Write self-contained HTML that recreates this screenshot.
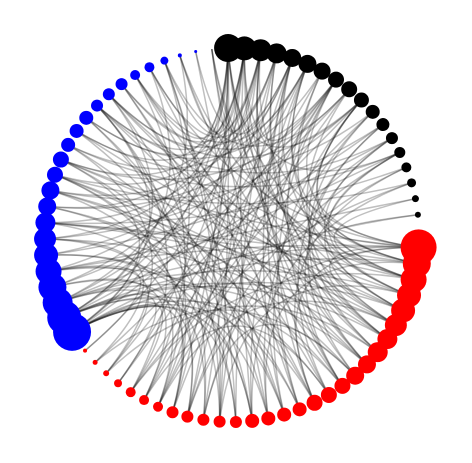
<!DOCTYPE html>
<html><head><meta charset="utf-8"><style>
html,body{margin:0;padding:0;background:#fff;width:472px;height:463px;overflow:hidden;font-family:"Liberation Sans",sans-serif}
</style></head><body>
<svg id="chart" width="472" height="463" viewBox="0 0 472 463">
<g id="edges"></g>
<g id="nodes"></g>
</svg>
<script>
// node groups by position index (72 positions around circle)
const groups = [
 "red","red","red","red","red","red","red","red","red","red","red","red","red","red","red","red","red","red","red","red","red","red","red","red","red","red","red","red","red",
 "blue","blue","blue","blue","blue","blue","blue","blue","blue","blue","blue","blue","blue","blue","blue","blue","blue","blue","blue","blue","blue","blue","blue","blue",
 "black","black","black","black","black","black","black","black","black","black","black","black","black","black","black","black","black","black","black"
];
// node radii (degree-based size)
const sizes = [
 18,14,13,12,12,11,10,10,9,9,8,8,8,7,7,7,7,6,6,6,6,6,5,5,5,4,3,2.5,2,
 19,17,15,14,13,12,11,10,9,9,8,8,7,7,7,6,6,6,5,5,4,2,1.5,0,
 14,12,11,10,9,9,8.5,8,8,7.5,7,6.5,6,5.5,5,4.5,3.5,3,0
];
// edges as pairs of node indices
const edges = [
 [0,40],[0,55],[0,20],[0,33],[0,60],[0,12],[1,45],[1,30],[1,58],[1,15],[2,36],[2,62],[2,24],[2,50],
 [3,31],[3,57],[3,18],[4,42],[4,29],[4,65],[5,38],[5,54],[5,22],[6,47],[6,30],[6,61],[7,35],[7,56],
 [7,26],[8,44],[8,53],[8,31],[9,39],[9,64],[9,19],[10,48],[10,29],[10,59],[11,33],[11,55],[11,23],
 [12,41],[12,67],[13,29],[13,52],[13,37],[14,46],[14,57],[15,30],[15,63],[16,34],[16,54],[16,42],
 [17,49],[17,29],[18,58],[18,36],[19,43],[19,55],[20,31],[20,66],[21,39],[21,53],[21,29],[22,47],
 [22,60],[23,32],[23,56],[24,44],[24,68],[25,30],[25,54],[26,41],[26,58],[27,35],[27,62],[28,33],
 [28,55],[29,53],[29,60],[29,44],[29,70],[30,54],[30,64],[30,48],[31,57],[31,66],[32,53],[32,61],
 [33,55],[33,69],[34,58],[34,65],[35,54],[35,62],[36,56],[36,67],[37,53],[37,60],[38,57],[38,64],
 [39,55],[39,68],[40,54],[40,61],[41,58],[41,66],[42,53],[42,63],[43,56],[43,59],[44,54],[44,65],
 [45,57],[45,62],[46,55],[46,60],[47,53],[47,58],[48,56],[49,54],[49,61],[50,53],[51,57],[52,55],
 [0,5],[0,48],[1,36],[2,44],[3,52],[4,59],[5,66],[6,39],[7,50],[8,63],[9,27],[10,37],[11,64],[12,30],
 [13,57],[14,34],[15,51],[16,68],[17,39],[18,45],[19,32],[20,53],[21,61],[22,35],[23,49],[24,29],
 [25,59],[26,33],[1,53],[3,66],[5,45],[7,62],[9,54],[11,47],[13,60],[15,43],[17,56],[19,67],
 [21,44],[23,63],[0,70],[2,69],[4,53],[6,56],[8,38],[10,55],[12,58],[14,62],[16,29],[18,53],
 [20,57],[22,65],[29,40],[30,45],[31,50],[53,62],[54,66],[55,60],[0,31],[1,62],[2,58],[3,40],
 [4,36],[5,30],[6,52],[8,57],[10,65],[12,46],[14,40],[16,60],[18,49],[20,38],[22,54],[24,60]
];
const cx = 232, cy = 235, R = 187;
function ang(i){ return (3.8 + 5*i - (i>=20 && i<29 ? (i-20)*0.25 : 0)) * Math.PI/180; }
function px(i){ return cx + R*Math.cos(ang(i)); }
function py(i){ return cy + R*Math.sin(ang(i)); }
const NS = "http://www.w3.org/2000/svg";
const eg = document.getElementById('edges');
edges.forEach(function(e){
  const a=e[0], b=e[1];
  const p = document.createElementNS(NS,'path');
  const mx = (px(a)+px(b))/2, my=(py(a)+py(b))/2;
  const qx = cx + (mx-cx)*0.12, qy = cy + (my-cy)*0.12;
  p.setAttribute('d','M'+px(a)+','+py(a)+' Q'+qx+','+qy+' '+px(b)+','+py(b));
  p.setAttribute('fill','none');
  p.setAttribute('stroke','#000');
  p.setAttribute('stroke-opacity','0.25');
  p.setAttribute('stroke-width','1.5');
  
  
  eg.appendChild(p);
});
const ng = document.getElementById('nodes');
for(let i=sizes.length-1;i>=0;i--){
  if(sizes[i]<=0) continue;
  const c = document.createElementNS(NS,'circle');
  c.setAttribute('cx',px(i)); c.setAttribute('cy',py(i)); c.setAttribute('r',sizes[i]);
  c.setAttribute('fill', groups[i]==='red'?'#ff0000':groups[i]==='blue'?'#0000ff':'#000000');
  
  
  ng.appendChild(c);
}
</script>
</body></html>
